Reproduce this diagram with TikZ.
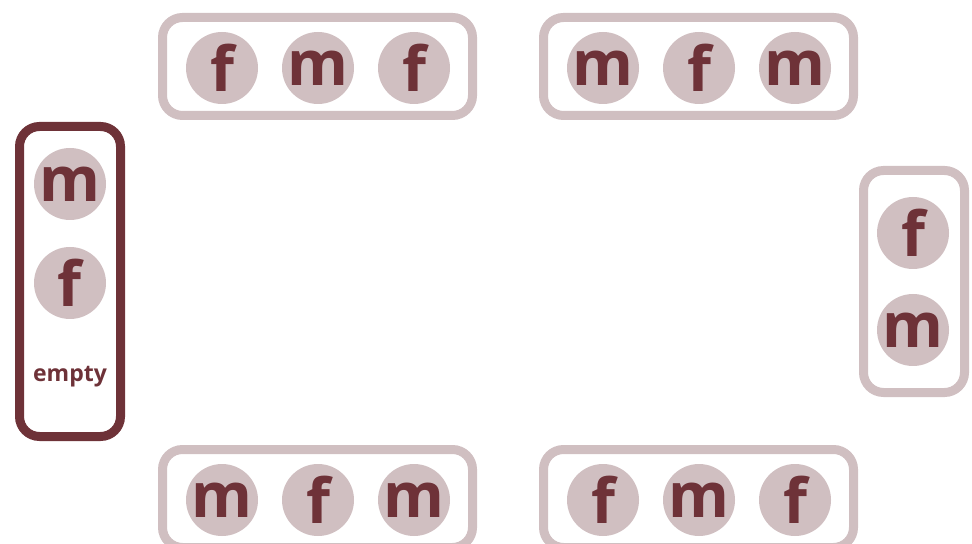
\documentclass[tikz,border=0pt]{standalone}
\usepackage{fontspec}
\setmainfont{Open Sans}
\usetikzlibrary{positioning}
\definecolor{seatpink}{HTML}{D0BFC1}
\definecolor{seatwine}{HTML}{6E3238}
\begin{document}
\begin{tikzpicture}[x=0.5pt,y=-0.5pt,
    table/.style={draw=seatpink,line width=4.5pt,rounded corners=10pt,inner sep=0pt},
    longtable/.style={table,minimum width=155pt,minimum height=49pt},
    endtable/.style={table,minimum width=50.5pt},
    guest/.style={circle,fill=seatpink,text=seatwine,minimum size=36pt,inner sep=0pt,
        font=\fontsize{31}{31}\selectfont\bfseries}]
\useasboundingbox (0,0) rectangle (972,544);
% long sides
\node[longtable] (topleft) at (317.5,66.5) {};
\node[longtable] (topright) at (698.5,66.5) {};
\node[longtable] (botleft) at (317.5,498.5) {};
\node[longtable] (botright) at (698.5,498.5) {};
\foreach \x/\g [count=\i] in {222/f,318/m,414/f} {
    \node[guest] (topleft\i) at (\x,68) {\g};
}
\foreach \x/\g [count=\i] in {603/m,699/f,795/m} {
    \node[guest] (topright\i) at (\x,68) {\g};
}
\foreach \x/\g [count=\i] in {222/m,318/f,414/m} {
    \node[guest] (botleft\i) at (\x,500) {\g};
}
\foreach \x/\g [count=\i] in {603/f,699/m,795/f} {
    \node[guest] (botright\i) at (\x,500) {\g};
}
% short ends
\node[endtable,draw=seatwine,minimum height=155pt] (headleft) at (70,281.5) {};
\node[endtable,minimum height=111pt] (headright) at (914,281.5) {};
\node[guest] (headleft1) at (70,184) {m};
\node[guest] (headleft2) at (70,283) {f};
\node[text=seatwine,font=\fontsize{11.5}{11.5}\selectfont\bfseries] (headleft3) at (70,377) {empty};
\node[guest] (headright1) at (913,233) {f};
\node[guest] (headright2) at (913,330) {m};
\end{tikzpicture}
\end{document}
